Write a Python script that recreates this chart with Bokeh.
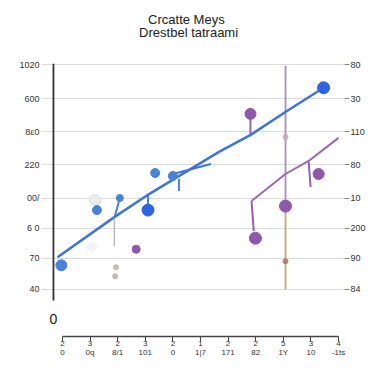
from bokeh.plotting import figure
from bokeh.models import (FixedTicker, LinearAxis, Label, BoxAnnotation)
from bokeh.embed import file_html
from bokeh.resources import INLINE

# ---------------- data ----------------
title_lines = ["Crcatte Meys", "Drestbel tatraami"]

x_ticks = [0, 1, 2, 3, 4, 5, 6, 7, 8, 9, 10]
x_top_labels = ["2", "3", "2", "3", "2", "1", "2", "2", "5", "3", "4"]
x_bottom_labels = ["0", "0q", "8/1", "101", "0", "1|7", "171", "82", "1Y", "10", "-1ts"]

y_ticks = [3.0, 6.1, 9.1, 12.1, 15.4, 18.7, 22.0, 25.4]
y_left_labels = ["40", "70", "6 0", "00/", "220", "8\u025b0", "600", "1020"]
y_right_labels = ["84", "90", "200", "10", "80", "110", "30", "80"]
y_axis_origin_label = "0"

# blue fitted line
blue_fit_x = [-0.18, 1.88, 3.14, 5.67, 6.82, 8.09, 9.46]
blue_fit_y = [6.2, 10.2, 12.5, 16.7, 18.4, 20.7, 23.1]
# short second blue line
blue_fit2_x = [4.0, 5.38]
blue_fit2_y = [14.5, 15.5]
# purple fitted line
purple_fit_x = [6.85, 8.08, 8.92, 10.0]
purple_fit_y = [11.8, 14.5, 15.8, 18.1]

# blue points
blue_x = [-0.04, 1.25, 2.08, 3.36, 4.0]
blue_y = [5.4, 10.9, 12.1, 14.6, 14.3]
blue_big_x = [3.1, 9.46]
blue_big_y = [10.9, 23.1]
# purple points
purple_x = [2.67, 6.81, 6.99, 9.28, 8.08]
purple_y = [7.0, 20.5, 8.1, 14.5, 11.3]
# pale points
pale_x = [1.19, 1.07]
pale_y = [11.9, 7.2]
# tan points
tan_x = [1.94, 1.91]
tan_y = [5.2, 4.3]

# residual stems (x0, y0, x1, y1)
blue_stem_x0 = [2.08, 3.1, 4.22]
blue_stem_y0 = [12.1, 10.9, 14.0]
blue_stem_x1 = [1.9, 3.1, 4.22]
blue_stem_y1 = [10.3, 12.4, 12.8]
purple_stem_x0 = [6.81, 6.85, 8.92]
purple_stem_y0 = [20.5, 11.8, 15.7]
purple_stem_x1 = [6.81, 6.93, 8.99]
purple_stem_y1 = [18.5, 8.8, 13.2]
gray_stem_x0 = [1.88]
gray_stem_y0 = [10.0]
gray_stem_x1 = [1.88]
gray_stem_y1 = [7.3]

# vertical line
vline_x = 8.08
vline_top = 25.3
vline_mid = 10.5
vline_bottom = 3.0
vline_marks_y = [18.2, 5.8]

# ---------------- figure ----------------
FONT = "Liberation Sans"
AXIS_X = -0.325          # where the dark vertical axis line sits
AXIS_Y_BOUNDS = (1.9, 25.5)
TITLE_POS = [(4.49, 29.9), (4.57, 28.6)]

p = figure(width=368, height=368, x_range=(-0.758, 10.217), y_range=(-1.7, 30.8),
           output_backend="svg", toolbar_location=None,
           min_border_left=41, min_border_right=23, min_border_bottom=32, min_border_top=10)
p.outline_line_color = None
p.xgrid.grid_line_color = None
p.ygrid.ticker = FixedTicker(ticks=y_ticks)
p.ygrid.grid_line_color = "#dcdcdc"
p.ygrid.grid_line_width = 1
p.title.visible = False

for (tx, ty), line in zip(TITLE_POS, title_lines):
    p.add_layout(Label(x=tx, y=ty, text=line, text_align="center", text_baseline="middle",
                       text_font=FONT, text_font_size="13px", text_color="#222222"))

# left axis (labels only; the dark line is drawn with bounds below)
la = p.yaxis[0]
la.ticker = FixedTicker(ticks=y_ticks)
la.major_label_overrides = {t: l for t, l in zip(y_ticks, y_left_labels)}
la.axis_line_color = None
la.major_tick_out = 0
la.major_tick_in = 0
la.minor_tick_line_color = None
la.major_label_standoff = 2
la.major_label_text_font = FONT
la.major_label_text_font_size = "9px"
la.major_label_text_color = "#333333"

p.add_layout(BoxAnnotation(left=AXIS_X, right=AXIS_X, bottom=AXIS_Y_BOUNDS[0], top=AXIS_Y_BOUNDS[1],
                           fill_alpha=0, line_color="#333333", line_alpha=1.0, line_width=1.8))
p.add_layout(Label(x=AXIS_X, y=0, text=y_axis_origin_label, text_align="center",
                   text_baseline="middle", text_font=FONT, text_font_size="14px",
                   text_color="#222222"))

# right axis
ra = LinearAxis(ticker=FixedTicker(ticks=y_ticks))
ra.major_label_overrides = {t: l for t, l in zip(y_ticks, y_right_labels)}
ra.axis_line_color = None
ra.major_tick_out = 5
ra.major_tick_in = 0
ra.major_tick_line_color = "#888888"
ra.minor_tick_line_color = None
ra.major_label_standoff = 1
ra.major_label_text_font = FONT
ra.major_label_text_font_size = "9px"
ra.major_label_text_color = "#333333"
p.add_layout(ra, "right")

# bottom axis
xa = p.xaxis[0]
xa.ticker = FixedTicker(ticks=x_ticks)
xa.major_label_overrides = {t: a + "\n" + b for t, a, b in zip(x_ticks, x_top_labels, x_bottom_labels)}
xa.bounds = (0, 10)
xa.axis_line_color = "#444444"
xa.axis_line_width = 1.5
xa.major_tick_out = 5
xa.major_tick_in = 0
xa.major_tick_line_color = "#444444"
xa.minor_tick_line_color = None
xa.major_label_standoff = -3
xa.major_label_text_font = FONT
xa.major_label_text_font_size = "8px"
xa.major_label_text_line_height = 1.1
xa.major_label_text_color = "#333333"

# vertical line
p.segment(x0=[vline_x], y0=[vline_top], x1=[vline_x], y1=[vline_mid],
          line_color="#a98fbf", line_width=1.8)
p.segment(x0=[vline_x], y0=[vline_mid], x1=[vline_x], y1=[vline_bottom],
          line_color="#caa56a", line_width=1.8)
p.scatter(x=[vline_x] * len(vline_marks_y), y=vline_marks_y, size=5,
          color=["#c9a6c6", "#b0706a"], alpha=0.8)

# stems
p.segment(x0=gray_stem_x0, y0=gray_stem_y0, x1=gray_stem_x1, y1=gray_stem_y1,
          line_color="#bbbbbb", line_width=1.5)
p.segment(x0=blue_stem_x0, y0=blue_stem_y0, x1=blue_stem_x1, y1=blue_stem_y1,
          line_color="#4a7fd6", line_width=2)
p.segment(x0=purple_stem_x0, y0=purple_stem_y0, x1=purple_stem_x1, y1=purple_stem_y1,
          line_color="#9560ad", line_width=2)

# lines
p.line(blue_fit_x, blue_fit_y, line_color="#3f74d6", line_width=2.5)
p.line(blue_fit2_x, blue_fit2_y, line_color="#3f74d6", line_width=2)
p.line(purple_fit_x, purple_fit_y, line_color="#9a68b3", line_width=2)

# points
p.scatter(pale_x, pale_y, size=[11, 9], fill_color=["#ececec", "#f4f4f4"],
          line_color=["#dddddd", "#f0f0f0"])
p.scatter(tan_x, tan_y, size=5, color="#cdb5a8")
p.scatter(blue_x, blue_y, size=[11, 9, 7, 9, 9], color="#4a82d8")
p.scatter(blue_big_x, blue_big_y, size=[12, 12], color="#2f63e0")
p.scatter(purple_x, purple_y, size=[8, 11, 12, 11, 12], color="#9058ab")

open("out.html", "w").write(file_html(p, INLINE))
